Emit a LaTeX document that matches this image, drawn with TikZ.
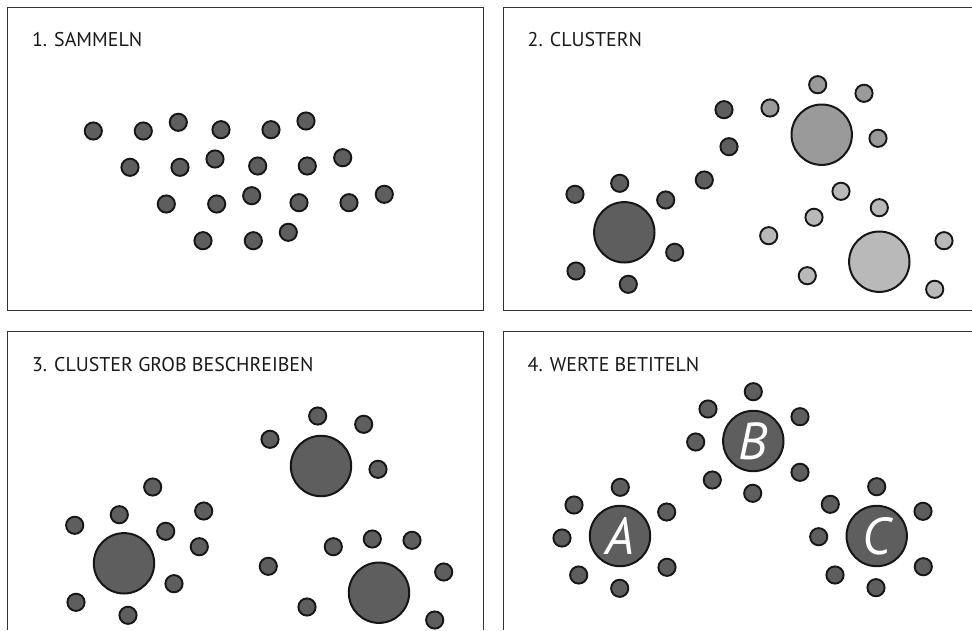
\documentclass[tikz,border=0pt]{standalone}
\usepackage{fontspec}
\setmainfont{PT Sans}
\newfontfamily\letterfont{PT Sans}
\usepackage{xcolor}
\usepackage{tikz}
\usetikzlibrary{positioning}
\definecolor{DotDark}{HTML}{5E5E5E}
\definecolor{DotMid}{HTML}{9A9A9A}
\definecolor{DotLight}{HTML}{B9B9B9}
\definecolor{DotEdge}{HTML}{161616}
\definecolor{FrameGray}{HTML}{333333}

\begin{document}
\begin{tikzpicture}[x=1pt,y=-1pt,
  frame/.style={draw=FrameGray,line width=1pt},
  title/.style={anchor=base west,font=\fontsize{19.9}{24}\selectfont,text=black!90},
  smalldot/.style={draw=DotEdge,line width=1.9pt},
  bigdot/.style={circle,draw=DotEdge,line width=2pt,minimum size=60.4pt,inner sep=0pt,
    text=white,font=\letterfont\itshape\fontsize{52}{52}\selectfont}]
  \useasboundingbox (0,0) rectangle (972,630);

  % panel frames
  \draw[frame] (7.5,7.5) rectangle (483.5,310.5);
  \draw[frame] (972,7.5) -- (503.5,7.5) -- (503.5,310.5) -- (972,310.5);
  \draw[frame] (7.5,630) -- (7.5,331.5) -- (483.5,331.5) -- (483.5,630);
  \draw[frame] (972,331.5) -- (503.5,331.5) -- (503.5,630);

  \node[title] (t1) at (28.5,46.7) {1. SAMMELN};
  \node[title] (t2) at (524.2,46.7) {2. CLUSTERN};
  \node[title] (t3) at (28.5,371.7) {3. CLUSTER GROB BESCHREIBEN};
  \node[title] (t4) at (524.2,371.7) {4. WERTE BETITELN};

  % 1. sammeln
  \foreach \p in {(93.3,131),(143.3,131),(178.3,122.3),(221,129.7),(271,129.7),(306,121),
                  (130,167.3),(180,167.3),(215,159),(257.7,166),(307.3,166),(342.7,157.7),
                  (166.3,204),(216.7,204),(251.7,195.7),(299,202.7),(349,202.7),(384.3,194.3),
                  (203,240.7),(253.3,240.7),(288.3,232.3)}
    \draw[smalldot,fill=DotDark] \p circle (8.6pt);

  % 2. clustern
  \node[bigdot,fill=DotDark] (c2dark) at (624.3,232.3) {};
  \node[bigdot,fill=DotMid] (c2mid) at (821.7,134.7) {};
  \node[bigdot,fill=DotLight] (c2light) at (879.3,261.7) {};
  \foreach \p in {(575,194.3),(619.7,183.3),(665.7,200),(674.7,252.3),(628.3,284.3),(576,271),
                  (704.3,180),(729,146.7),(724,109.7)}
    \draw[smalldot,fill=DotDark] \p circle (8.6pt);
  \foreach \p in {(770,108),(817.7,84.7),(864,93.3),(878,138.3)}
    \draw[smalldot,fill=DotMid] \p circle (8.6pt);
  \foreach \p in {(841,191.3),(879.3,207.7),(814,217.3),(768.7,235.7),(807.3,275.7),
                  (944,240.7),(934.7,289.3)}
    \draw[smalldot,fill=DotLight] \p circle (8.6pt);

  % 3. cluster grob beschreiben
  \node[bigdot,fill=DotDark] (c3top) at (321,466) {};
  \node[bigdot,fill=DotDark] (c3left) at (124,563.3) {};
  \node[bigdot,fill=DotDark] (c3right) at (379,592.7) {};
  \foreach \p in {(270,439.3),(317.7,416),(363.7,424.3),(378,469.3),
                  (74.7,525.3),(119.3,514.7),(152.7,487),(165.7,531.3),(203.7,511),
                  (199.3,546.7),(174,583.7),(76,602.3),(128,615.3),
                  (268.3,566.3),(333.3,546.7),(372.3,539),(412,540.3),(443.7,572),
                  (307,607),(434.7,620)}
    \draw[smalldot,fill=DotDark] \p circle (8.6pt);

  % 4. werte betiteln
  \node[bigdot,fill=DotDark] (cA) at (620,536) {A};
  \node[bigdot,fill=DotDark] (cB) at (753.3,441) {B};
  \node[bigdot,fill=DotDark] (cC) at (876.7,536) {C};
  \foreach \p in {(620.3,487.3),(574,505),(666.7,512),(562,538),(578.7,575),(619.7,588.3),(667,567.3),
                  (753.3,391.7),(708,409),(800,416.7),(695.7,442),(712.3,480),(752.7,493.3),(800,472.3),
                  (876.7,486.7),(830.3,504.3),(923,511.3),(818.7,536.7),(835,575),(876,587.7),(923.3,566.7)}
    \draw[smalldot,fill=DotDark] \p circle (8.6pt);
\end{tikzpicture}
\end{document}
